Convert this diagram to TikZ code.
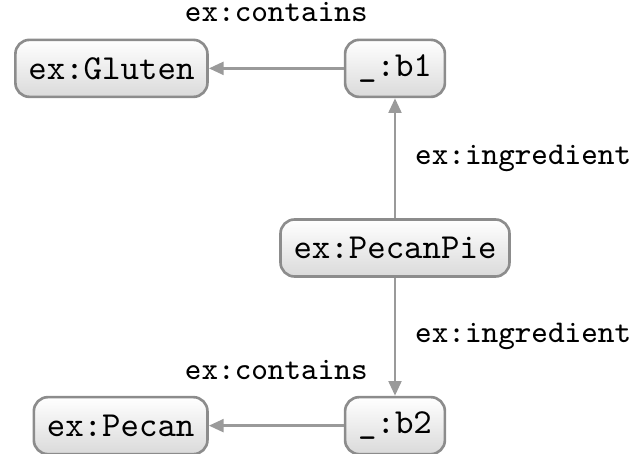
\documentclass[tikz,border=0pt]{standalone}
\usetikzlibrary{arrows.meta,positioning}
\definecolor{NodeLine}{HTML}{8C8C8C}
\definecolor{NodeShade}{HTML}{DADADA}
\definecolor{EdgeGray}{HTML}{9A9A9A}

\begin{document}
\begin{tikzpicture}[node distance=1.2cm,
  res/.style={draw=NodeLine,line width=0.75pt,top color=white,bottom color=NodeShade,rounded corners=4pt,minimum height=0.57cm,inner xsep=3.7pt,font=\ttfamily},
  rel/.style={draw=EdgeGray,line width=0.85pt,-{Triangle[length=4.2pt,width=3.6pt]}},
  lbl/.style={font=\ttfamily\small,text=black}]
  \useasboundingbox (0,0) rectangle (6.35,-4.53);
  \node[res] (pie) at (3.95,-2.48) {ex:PecanPie};
  \node[res,above=of pie] (b1) {\_:b1};
  \node[res,below=1.18cm of pie] (b2) {\_:b2};
  \node[res,left=1.35cm of b1] (gluten) {ex:Gluten};
  \node[res,left=1.35cm of b2] (pecan) {ex:Pecan};
  \draw[rel] (pie) -- node[lbl,right=2pt] {ex:ingredient} (b1);
  \draw[rel] (pie) -- node[lbl,right=2pt] {ex:ingredient} (b2);
  \draw[rel] (b1) -- node[lbl,above=0.33cm] {ex:contains} (gluten);
  \draw[rel] (b2) -- node[lbl,above=0.33cm] {ex:contains} (pecan);
\end{tikzpicture}
\end{document}
